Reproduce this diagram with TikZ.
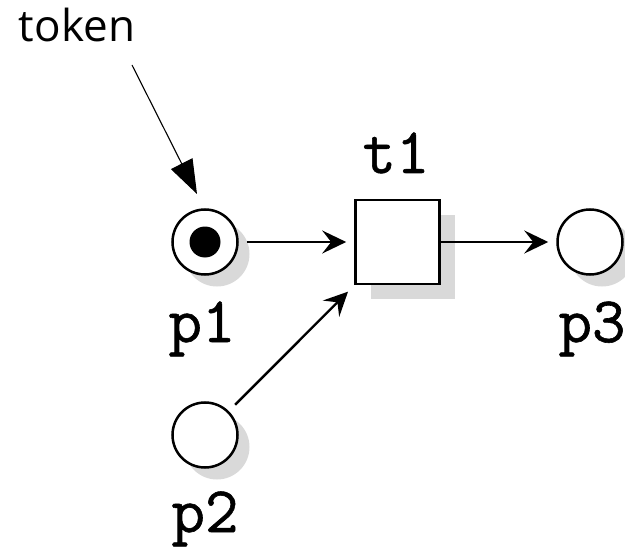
\documentclass[tikz,border=0pt]{standalone}
\usepackage{fontspec}
\newfontfamily\tokfont{Open Sans}
\newfontfamily\namefont{Latin Modern Mono}[FakeBold=0.9]
\usetikzlibrary{arrows.meta,shadows}
\begin{document}
\begin{tikzpicture}[x=1pt,y=-1pt,
  shadowed/.style={general shadow={fill=black!15, shadow xshift=#1, shadow yshift=-#1}},
  place/.style={circle, draw, line width=2.5pt, minimum size=65pt, inner sep=0pt, fill=white, shadowed=12pt},
  transitionbox/.style={rectangle, draw, line width=2.6pt, minimum size=84pt, inner sep=0pt, fill=white, shadowed=15pt},
  tokendot/.style={circle, fill=black, minimum size=31pt, inner sep=0pt},
  namelabel/.style={font=\fontsize{65}{70}\selectfont\namefont, anchor=base, inner sep=0pt},
  arc/.style={line width=2.4pt, -{Stealth[length=24pt,width=23pt,inset=9pt]}},
  pointer/.style={line width=1.1pt, -{Triangle[length=34pt,width=24pt]}}
]
\useasboundingbox (0,0) rectangle (625,551);
\node[place] (p1) at (205,242) {};
\node[tokendot] (tok) at (205,242) {};
\node[place] (p2) at (205,435) {};
\node[place] (p3) at (590,242) {};
\node[transitionbox] (t1) at (397.5,242) {};
\node[namelabel] (lp1) at (202,342) {p1};
\node[namelabel] (lp2) at (205,532) {p2};
\node[namelabel] (lp3) at (592,342) {p3};
\node[namelabel] (lt1) at (396,173) {t1};
\node[font=\fontsize{44}{50}\selectfont\tokfont, anchor=base, inner sep=0pt] (tokenlabel) at (77,42) {token};
\coordinate (tokstart) at (132,65);
\coordinate (tokend) at (197,194);
\draw[arc, shorten <=8pt, shorten >=8pt] (p1) -- (t1);
\draw[arc, shorten >=8pt] (t1) -- (p3);
\draw[arc, shorten <=9pt, shorten >=9pt] (p2) -- (t1);
\draw[pointer] (tokstart) -- (tokend);
\end{tikzpicture}
\end{document}
